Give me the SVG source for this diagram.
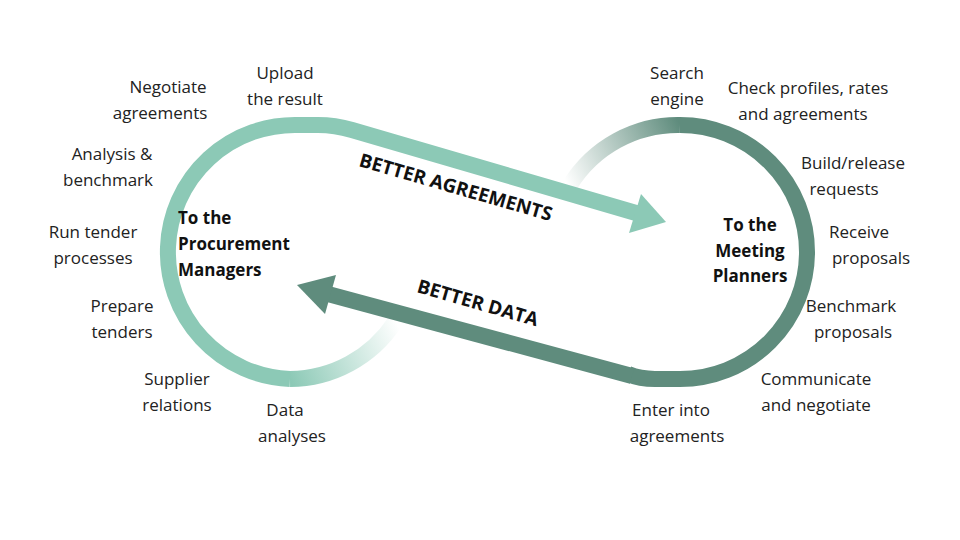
<svg xmlns="http://www.w3.org/2000/svg" width="960" height="540" viewBox="0 0 960 540">
<defs>
<style>
.t{font-family:"Open Sans","Liberation Sans",sans-serif;font-size:17px;fill:#222;text-anchor:middle}
.b{font-family:"Open Sans","Liberation Sans",sans-serif;font-size:17px;font-weight:bold;fill:#111;text-anchor:middle}
.big{font-family:"Open Sans","Liberation Sans",sans-serif;font-size:19px;font-weight:bold;fill:#111}
.l{fill:none;stroke:#8cc9b6;stroke-width:16}
.d{fill:none;stroke:#5f8c7d;stroke-width:16}
</style>
<linearGradient id="gl" gradientUnits="userSpaceOnUse" x1="290" y1="379" x2="400" y2="330"><stop offset="0" stop-color="#8cc9b6"/><stop offset="1" stop-color="#8cc9b6" stop-opacity="0"/></linearGradient>
<linearGradient id="gr" gradientUnits="userSpaceOnUse" x1="680" y1="125" x2="565" y2="180"><stop offset="0" stop-color="#5f8c7d"/><stop offset="1" stop-color="#5f8c7d" stop-opacity="0"/></linearGradient>
</defs>
<g id="connectors">
<path class="l" d="M 300 125 A 127 127 0 0 0 290 379"/>
<path d="M 290 379 A 127 127 0 0 0 395 322" fill="none" stroke="url(#gl)" stroke-width="16"/>
<path class="d" d="M 628 374 Q 640 379 655 379 L 680 379 A 127 127 0 0 0 680 125"/>
<path d="M 680 125 A 127 127 0 0 0 570 185" fill="none" stroke="url(#gr)" stroke-width="16"/>
<path class="l" d="M 296 125 L 318 125 Q 335 125 352 130 L 636 213"/>
<polygon points="666,222 629,233 641,194" fill="#8cc9b6"/>
<path class="d" d="M 632 376 L 328 294"/>
<polygon points="297,285 336,275 325,314" fill="#5f8c7d"/>
<text class="big" transform="translate(358,166) rotate(16)">BETTER AGREEMENTS</text>
<text class="big" transform="translate(416,292) rotate(16)">BETTER DATA</text>
</g>
<g id="procurement"><text class="b" x="178" y="224" style="text-anchor:start">To the</text><text class="b" x="178" y="250" style="text-anchor:start">Procurement</text><text class="b" x="178" y="276" style="text-anchor:start">Managers</text></g>
<g id="planners"><text class="b" x="750" y="231">To the</text><text class="b" x="750" y="257">Meeting</text><text class="b" x="750" y="282">Planners</text></g>
<g id="l1"><text class="t" x="285" y="79">Upload</text><text class="t" x="285" y="105">the result</text></g>
<g id="l2"><text class="t" x="168" y="93">Negotiate</text><text class="t" x="160" y="119">agreements</text></g>
<g id="l3"><text class="t" x="112" y="160">Analysis &amp;</text><text class="t" x="108" y="186">benchmark</text></g>
<g id="l4"><text class="t" x="93" y="238">Run tender</text><text class="t" x="93" y="264">processes</text></g>
<g id="l5"><text class="t" x="122" y="312">Prepare</text><text class="t" x="122" y="338">tenders</text></g>
<g id="l6"><text class="t" x="177" y="385">Supplier</text><text class="t" x="177" y="411">relations</text></g>
<g id="l7"><text class="t" x="285" y="416">Data</text><text class="t" x="292" y="442">analyses</text></g>
<g id="r1"><text class="t" x="677" y="79">Search</text><text class="t" x="677" y="105">engine</text></g>
<g id="r2"><text class="t" x="808" y="94">Check profiles, rates</text><text class="t" x="803" y="120">and agreements</text></g>
<g id="r3"><text class="t" x="853" y="169">Build/release</text><text class="t" x="844" y="195">requests</text></g>
<g id="r4"><text class="t" x="859" y="238">Receive</text><text class="t" x="871" y="264">proposals</text></g>
<g id="r5"><text class="t" x="851" y="312">Benchmark</text><text class="t" x="853" y="338">proposals</text></g>
<g id="r6"><text class="t" x="816" y="385">Communicate</text><text class="t" x="816" y="411">and negotiate</text></g>
<g id="r7"><text class="t" x="671" y="416">Enter into</text><text class="t" x="677" y="442">agreements</text></g>
</svg>
